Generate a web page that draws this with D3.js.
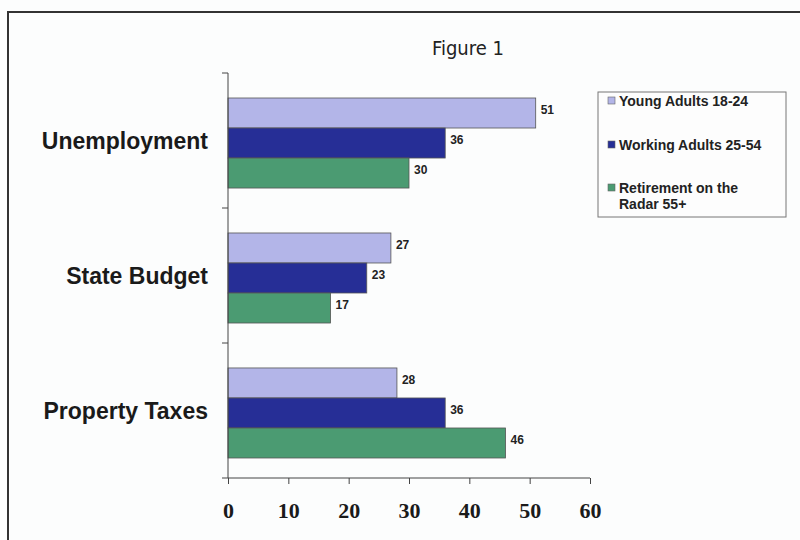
<!DOCTYPE html>
<html><head><meta charset="utf-8">
<script src="https://cdn.jsdelivr.net/npm/d3@7"></script>
<style>body{margin:0;background:#fdfdfd;}svg{display:block;}</style>
</head><body>
<script>
const categories = ["Unemployment", "State Budget", "Property Taxes"];
const seriesNames = ["Young Adults 18-24", "Working Adults 25-54", "Retirement on the Radar 55+"];
const young = [51, 27, 28];
const working = [36, 23, 36];
const retire = [30, 17, 46];
const xTicks = [0, 10, 20, 30, 40, 50, 60];
const colors = ["#b3b5e8", "#262e96", "#4b9b72"];

const W = 800, H = 540;
const svg = d3.select("body").append("svg").attr("width", W).attr("height", H);
svg.append("rect").attr("width", W).attr("height", H).attr("fill", "#fcfdfd");
// frame
svg.append("line").attr("x1", 8).attr("x2", W).attr("y1", 12).attr("y2", 12).attr("stroke", "#333").attr("stroke-width", 2);
svg.append("line").attr("x1", 8).attr("x2", 8).attr("y1", 11).attr("y2", H).attr("stroke", "#333").attr("stroke-width", 2);

svg.append("text").attr("x", 468).attr("y", 55).attr("text-anchor", "middle")
  .attr("font-family", "DejaVu Sans Condensed, DejaVu Sans").attr("font-size", 20).attr("fill", "#222").text("Figure 1");

const x = d3.scaleLinear().domain([0, 60]).range([228, 590]);
const y = d3.scaleBand().domain(categories).range([75.5, 480.5]).paddingInner(0.333).paddingOuter(0.1667);
const sub = d3.scaleBand().domain(seriesNames).range([0, y.bandwidth()]);

const data = [young, working, retire];
const g = svg.append("g");
categories.forEach((c, i) => {
  seriesNames.forEach((s, j) => {
    const v = data[j][i];
    g.append("rect").attr("x", x(0)).attr("y", y(c) + sub(s)).attr("width", x(v) - x(0)).attr("height", sub.bandwidth())
      .attr("fill", colors[j]).attr("stroke", "#555").attr("stroke-width", 0.8);
    g.append("text").attr("x", x(v) + 5).attr("y", y(c) + sub(s) + sub.bandwidth() / 2 + 1)
      .attr("font-family", "Liberation Sans, Arial").attr("font-weight", "bold").attr("font-size", 12).attr("fill", "#222").text(v);
  });
});

// y axis
svg.append("line").attr("x1", 228).attr("x2", 228).attr("y1", 73).attr("y2", 478).attr("stroke", "#444");
[0, 1, 2].forEach(k => {
  const t = 73 + k * 135;
  svg.append("line").attr("x1", 222).attr("x2", 228).attr("y1", t).attr("y2", t).attr("stroke", "#444");
});
categories.forEach(c => {
  svg.append("text").attr("x", 208).attr("y", y(c) + y.bandwidth() / 2 + 6).attr("text-anchor", "end")
    .attr("font-family", "Liberation Sans, Arial").attr("font-weight", "bold").attr("font-size", 23).attr("fill", "#1a1a1a").text(c);
});

// x axis
const xa = svg.append("g").attr("transform", "translate(0,478)")
  .call(d3.axisBottom(x).tickValues(xTicks).tickSize(6).tickPadding(18).tickSizeOuter(0));
xa.select(".domain").attr("stroke", "#444").attr("d", "M222,0H590");
xa.selectAll(".tick line").attr("stroke", "#444");
xa.selectAll("text").attr("font-family", "Liberation Serif, Times New Roman").attr("font-weight", "bold").attr("font-size", 22).attr("fill", "#1a1a1a");

// legend
const lg = svg.append("g");
lg.append("rect").attr("x", 598).attr("y", 92).attr("width", 188).attr("height", 125).attr("fill", "#fdfdfd").attr("stroke", "#777").attr("stroke-width", 1);
const legY = [101, 145, 188];
seriesNames.forEach((s, j) => {
  lg.append("rect").attr("x", 608).attr("y", legY[j] - 4).attr("width", 7).attr("height", 7).attr("fill", colors[j]).attr("stroke", "#666").attr("stroke-width", 0.6);
  const t = lg.append("text").attr("x", 619).attr("y", legY[j] + 5).attr("font-family", "Liberation Sans, Arial").attr("font-weight", "bold").attr("font-size", 14).attr("fill", "#222");
  if (j === 2) {
    t.append("tspan").attr("x", 619).text("Retirement on the");
    t.append("tspan").attr("x", 619).attr("dy", 16).text("Radar 55+");
  } else t.text(s);
});
</script>
</body></html>
